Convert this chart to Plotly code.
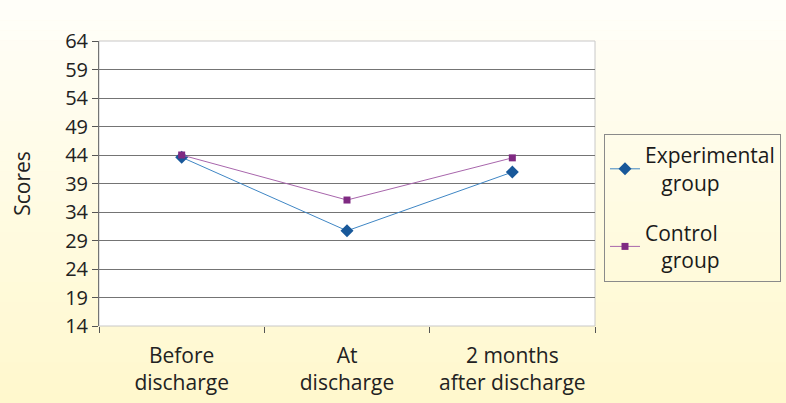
import plotly.graph_objects as go

categories = ["Before<br>discharge", "At<br>discharge", "2 months<br>after discharge"]
experimental = [43.6, 30.7, 41.0]
control = [44.0, 36.1, 43.5]
y_ticks = [14, 19, 24, 29, 34, 39, 44, 49, 54, 59, 64]

W, H = 786, 403
L, T = 99, 41
pw, ph = 496, 285
R, B = W - L - pw, H - T - ph

FONT = "Open Sans"

fig = go.Figure()
fig.add_trace(go.Scatter(
    x=categories, y=experimental, mode="lines+markers",
    name="Experimental<br>   group", legendgroup="a",
    line=dict(color="#3f86c4", width=1),
    marker=dict(symbol="diamond", size=10, color="#18589a"),
))
fig.add_trace(go.Scatter(
    x=categories, y=control, mode="lines+markers",
    name="Control<br>   group", legendgroup="b",
    line=dict(color="#a866ac", width=1),
    marker=dict(symbol="square", size=7, color="#7f2a82"),
))

# vertical gradient background
shapes = []
n = 40
top = (255, 254, 249)
bot = (255, 248, 205)
for i in range(n):
    f = i / (n - 1)
    c = tuple(round(top[k] + (bot[k] - top[k]) * f) for k in range(3))
    y0 = 1 + T / ph - (i / n) * (H / ph)
    y1 = 1 + T / ph - ((i + 1) / n) * (H / ph)
    shapes.append(dict(type="rect", xref="paper", yref="paper",
                       x0=-L / pw, x1=(W - L) / pw, y0=y1 - 0.002, y1=y0,
                       fillcolor="rgb(%d,%d,%d)" % c, line=dict(width=0), layer="below"))
shapes.append(dict(type="rect", xref="paper", yref="paper", x0=0, x1=1, y0=0, y1=1,
                   fillcolor="white", line=dict(color="#c8c8c8", width=1), layer="below"))

fig.update_layout(
    width=W, height=H,
    margin=dict(l=L, r=R, t=T, b=B, autoexpand=False),
    paper_bgcolor="#fff8d4",
    plot_bgcolor="white",
    shapes=shapes,
    font=dict(family=FONT, color="#222222", size=20),
    showlegend=True,
    legend=dict(
        xref="container", yref="container",
        x=604 / W, xanchor="left", y=1 - 134 / H, yanchor="top",
        bgcolor="rgba(255,255,255,0)", bordercolor="#8a8a8a", borderwidth=1,
        font=dict(family=FONT, size=21, color="#1a1a1a"),
        traceorder="grouped", tracegroupgap=20,
        itemwidth=30,
    ),
    xaxis=dict(
        type="category", tickson="boundaries", ticks="outside", ticklen=6,
        tickcolor="#555555", showgrid=False, showline=False,
        tickfont=dict(size=21), range=[-0.5, 2.5], zeroline=False,
        ticklabelstandoff=15,
    ),
    yaxis=dict(
        title=dict(text="Scores", font=dict(size=21), standoff=28),
        range=[14, 64], tickvals=y_ticks, ticktext=[str(v) for v in y_ticks],
        ticks="outside", ticklen=6, tickcolor="#555555",
        showgrid=True, gridcolor="#747474", gridwidth=1,
        showline=True, linecolor="#747474", linewidth=1,
        zeroline=False, tickfont=dict(size=20),
    ),
)
fig.write_html(
    "out.html",
    config={"displayModeBar": False},
    post_script="document.body.style.margin='0';document.body.style.overflow='hidden';",
)
